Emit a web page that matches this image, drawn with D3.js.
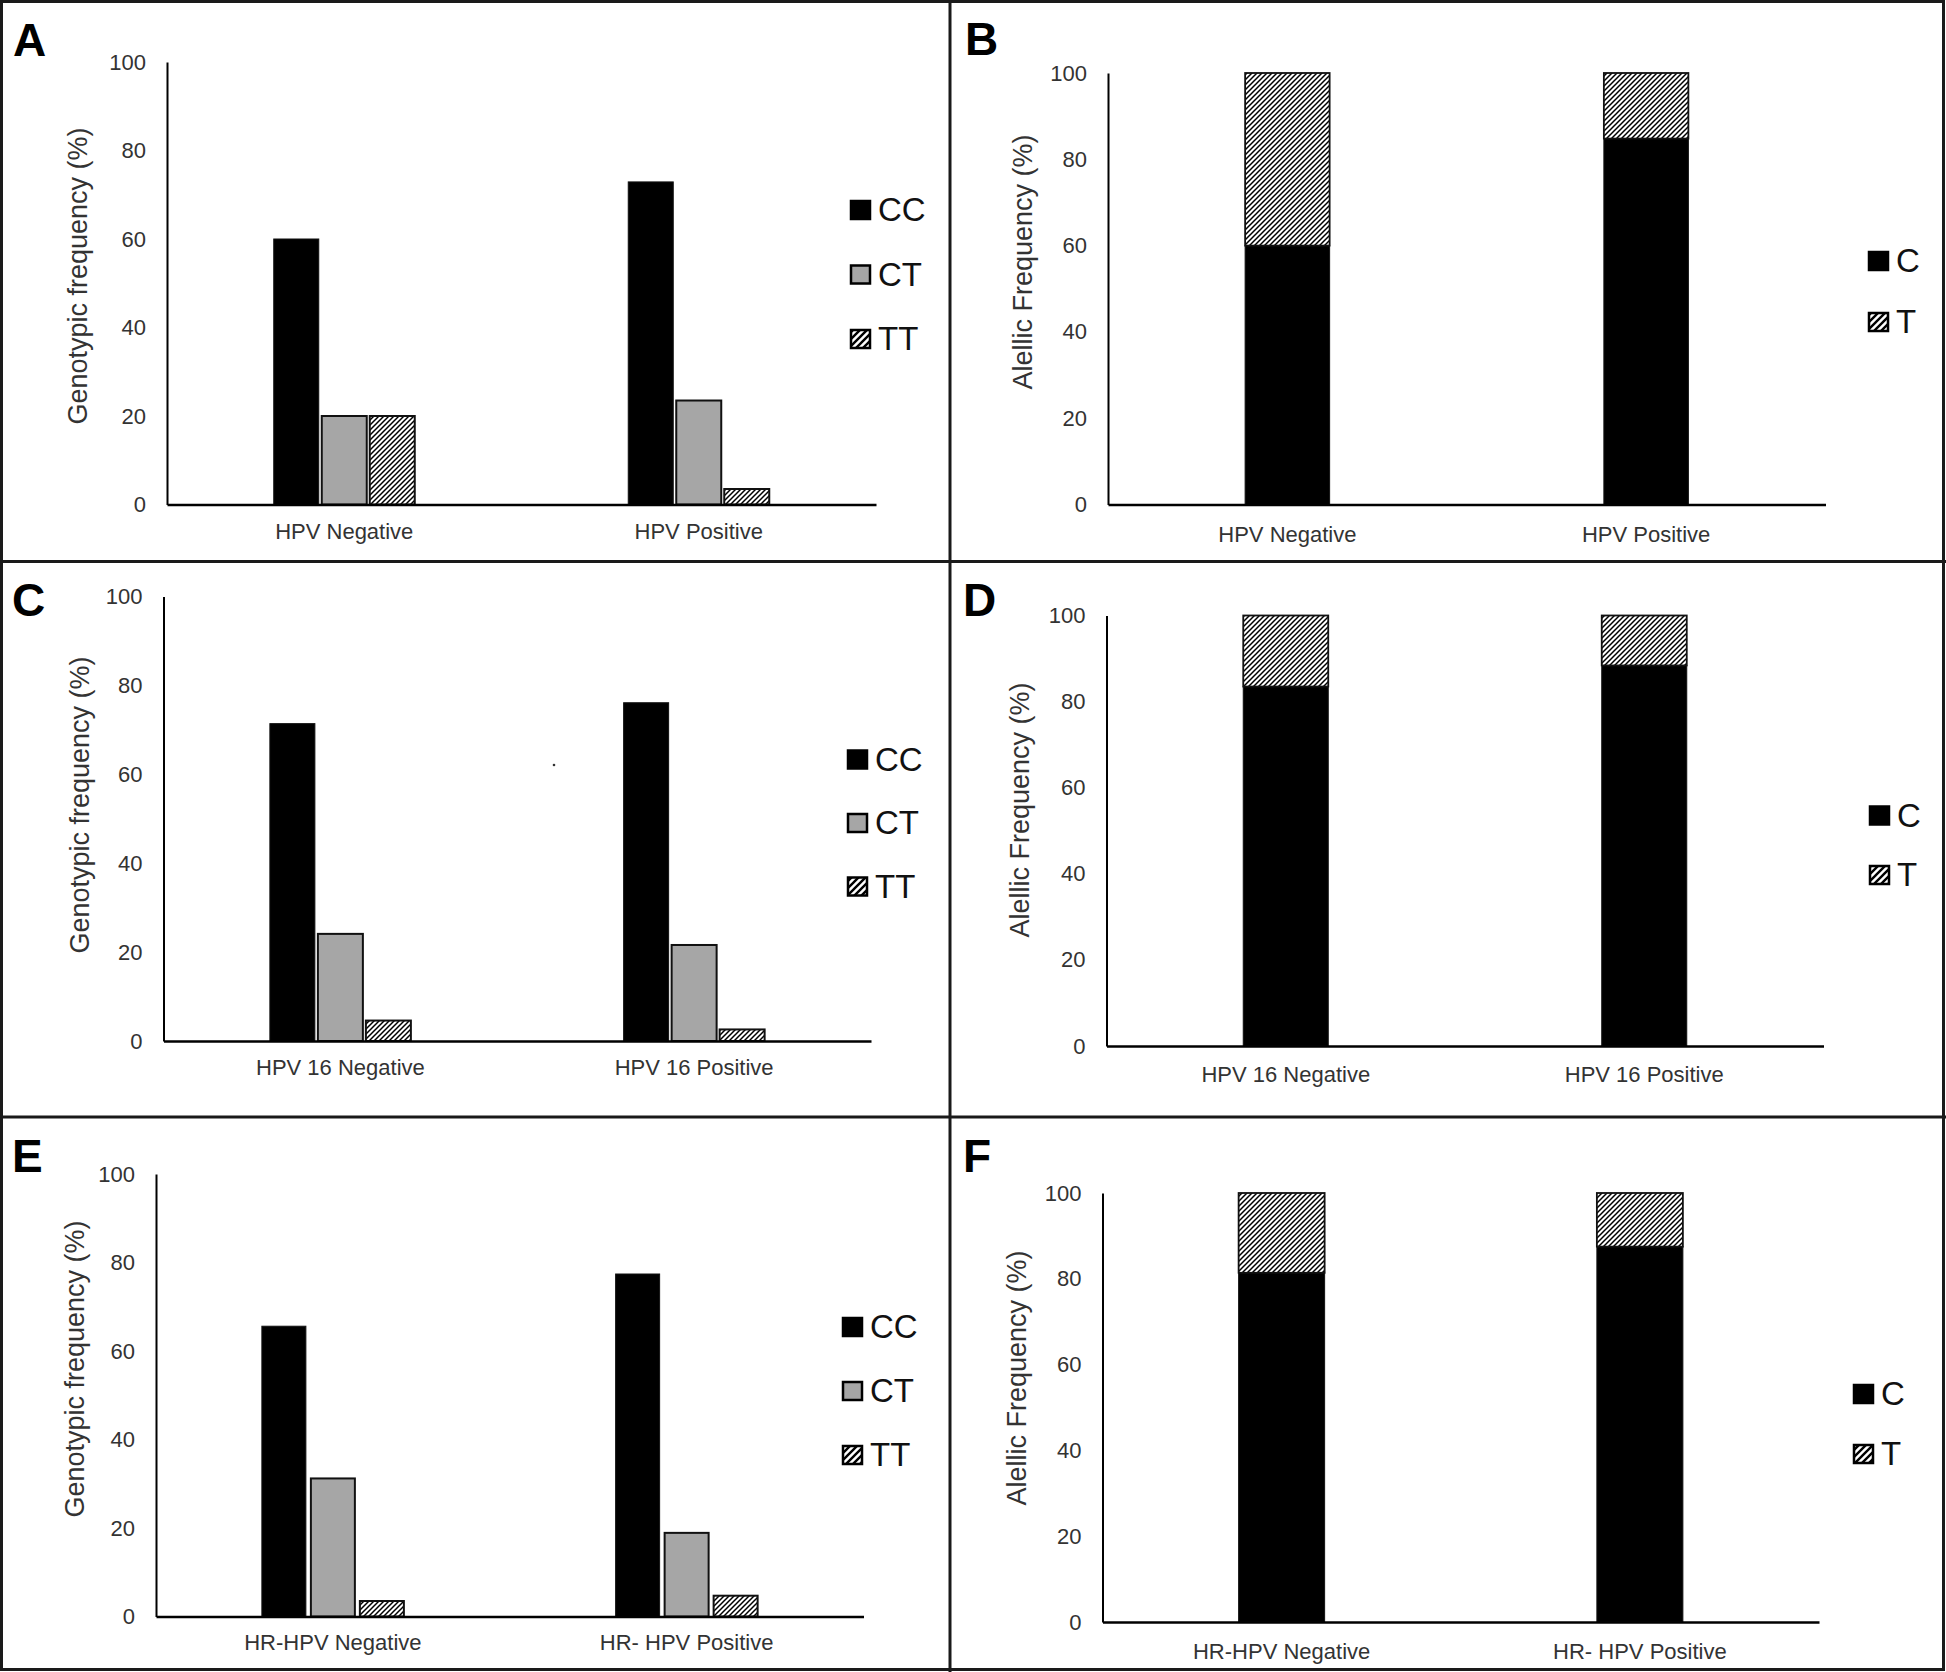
<!DOCTYPE html>
<html>
<head>
<meta charset="utf-8">
<script src="https://cdn.jsdelivr.net/npm/d3@7"></script>
<style>
  html, body { margin: 0; padding: 0; background: #fff; }
  svg { display: block; }
  text { font-family: Arial, "Liberation Sans", sans-serif; }
</style>
</head>
<body>
<svg id="chart" width="1946" height="1672"></svg>
<script>
// ---------------- DATA ----------------
const tickValues = [0, 20, 40, 60, 80, 100];
const genotypes = ["CC", "CT", "TT"];
const alleles = ["C", "T"];

const catsA = ["HPV Negative", "HPV Positive"];
const ccA = [60.0, 72.9];
const ctA = [20.0, 23.5];
const ttA = [20.0, 3.5];

const catsB = ["HPV Negative", "HPV Positive"];
const cB = [60.0, 84.8];
const tB = [40.0, 15.2];

const catsC = ["HPV 16 Negative", "HPV 16 Positive"];
const ccC = [71.4, 76.1];
const ctC = [24.1, 21.6];
const ttC = [4.6, 2.6];

const catsD = ["HPV 16 Negative", "HPV 16 Positive"];
const cD = [83.5, 88.4];
const tD = [16.5, 11.6];

const catsE = ["HR-HPV Negative", "HR- HPV Positive"];
const ccE = [65.6, 77.4];
const ctE = [31.2, 18.9];
const ttE = [3.5, 4.7];

const catsF = ["HR-HPV Negative", "HR- HPV Positive"];
const cF = [81.4, 87.5];
const tF = [18.6, 12.5];

const genoTitle = "Genotypic frequency (%)";
const alleleTitle = "Alellic Frequency (%)";

// ---------------- LAYOUT ----------------
const panels = [
  { letter: "A", kind: "geno", cats: catsA, series: [ccA, ctA, ttA],
    label: [13, 56], plot: { x0: 167, x1: 876, top: 62, bottom: 504.5 },
    barW: 45, gap: 3, legend: { x: 850, y: 200, step: 64.5 }, title: [78, 276], xPad: 19 },
  { letter: "B", kind: "allele", cats: catsB, series: [cB, tB],
    label: [965, 55], plot: { x0: 1108, x1: 1825.5, top: 73, bottom: 504.5 },
    barW: 84.5, legend: { x: 1868, y: 251, step: 61 }, title: [1023, 262], xPad: 22 },
  { letter: "C", kind: "geno", cats: catsC, series: [ccC, ctC, ttC],
    label: [12, 616], plot: { x0: 163.5, x1: 871, top: 596.5, bottom: 1041 },
    barW: 45, gap: 3, legend: { x: 847, y: 749.5, step: 63.5 }, title: [80, 805], xPad: 18 },
  { letter: "D", kind: "allele", cats: catsD, series: [cD, tD],
    label: [963, 616], plot: { x0: 1106.5, x1: 1823.5, top: 615.5, bottom: 1046 },
    barW: 85, legend: { x: 1869, y: 805.5, step: 59.5 }, title: [1020, 810], xPad: 20 },
  { letter: "E", kind: "geno", cats: catsE, series: [ccE, ctE, ttE],
    label: [12, 1172], plot: { x0: 156, x1: 863.5, top: 1174, bottom: 1616.5 },
    barW: 44, gap: 5, legend: { x: 842, y: 1317, step: 64 }, title: [75, 1369], xPad: 18 },
  { letter: "F", kind: "allele", cats: catsF, series: [cF, tF],
    label: [963, 1172], plot: { x0: 1102.5, x1: 1819, top: 1193, bottom: 1622 },
    barW: 86, legend: { x: 1853, y: 1384, step: 60 }, title: [1017, 1378], xPad: 21 }
];

const svg = d3.select("#chart");
const defs = svg.append("defs");

// hatch pattern for bars
const hatch = defs.append("pattern").attr("id", "hatch")
  .attr("patternUnits", "userSpaceOnUse").attr("width", 5).attr("height", 5);
hatch.append("rect").attr("width", 5).attr("height", 5).attr("fill", "#fff");
hatch.append("path").attr("d", "M-1,1 l2,-2 M0,5 l5,-5 M4,6 l2,-2")
  .attr("stroke", "#000").attr("stroke-width", 1.5);

// coarser hatch for legend keys
const hatchL = defs.append("pattern").attr("id", "hatchL")
  .attr("patternUnits", "userSpaceOnUse").attr("width", 7).attr("height", 7);
hatchL.append("rect").attr("width", 7).attr("height", 7).attr("fill", "#fff");
hatchL.append("path").attr("d", "M-1,1 l2,-2 M0,7 l7,-7 M6,8 l2,-2")
  .attr("stroke", "#000").attr("stroke-width", 2.4);

const fills = { CC: "#000", CT: "#a6a6a6", TT: "url(#hatch)", C: "#000", T: "url(#hatch)" };
const legendFills = { CC: "#000", CT: "#a6a6a6", TT: "url(#hatchL)", C: "#000", T: "url(#hatchL)" };

// white background
svg.append("rect").attr("width", 1946).attr("height", 1672).attr("fill", "#fff");

panels.forEach(p => {
  const g = svg.append("g");
  const y = d3.scaleLinear().domain([0, 100]).range([p.plot.bottom, p.plot.top]);
  const x = d3.scaleBand().domain(p.cats).range([p.plot.x0, p.plot.x1]).padding(0);

  // axes
  const yAxis = d3.axisLeft(y).tickValues(tickValues).tickSize(0).tickSizeOuter(0).tickPadding(21);
  const yg = g.append("g").attr("transform", `translate(${p.plot.x0},0)`).call(yAxis);
  yg.select(".domain").attr("stroke", "#000").attr("stroke-width", 2);
  yg.selectAll("text").attr("font-size", 22).attr("fill", "#333")
    .attr("font-family", "Arial, 'Liberation Sans', sans-serif");

  const series = p.kind === "geno" ? genotypes : alleles;

  if (p.kind === "geno") {
    const groupW = 3 * p.barW + 2 * p.gap;
    const step = p.barW + p.gap;
    const inner = d3.scaleBand().domain(series)
      .range([-groupW / 2, groupW / 2]).paddingInner(p.gap / step);
    series.forEach((s, si) => {
      g.append("g").selectAll("rect")
        .data(p.cats.map((c, ci) => ({ c, v: p.series[si][ci] })))
        .join("rect")
        .attr("x", d => x(d.c) + x.bandwidth() / 2 + inner(s))
        .attr("width", inner.bandwidth())
        .attr("y", d => y(d.v))
        .attr("height", d => y(0) - y(d.v))
        .attr("fill", fills[s])
        .attr("stroke", "#111")
        .attr("stroke-width", s === "CC" ? 1 : 2);
    });
  } else {
    const rows = p.cats.map((c, ci) => {
      const o = { cat: c };
      series.forEach((s, si) => { o[s] = p.series[si][ci]; });
      return o;
    });
    const stacked = d3.stack().keys(series)(rows);
    stacked.forEach(layer => {
      g.append("g").selectAll("rect")
        .data(layer)
        .join("rect")
        .attr("x", d => x(d.data.cat) + x.bandwidth() / 2 - p.barW / 2)
        .attr("width", p.barW)
        .attr("y", d => y(d[1]))
        .attr("height", d => y(d[0]) - y(d[1]))
        .attr("fill", fills[layer.key])
        .attr("stroke", "#111")
        .attr("stroke-width", layer.key === "C" ? 1 : 1.8);
    });
  }

  const xAxis = d3.axisBottom(x).tickSize(0).tickSizeOuter(0).tickPadding(p.xPad);
  const xg = g.append("g").attr("transform", `translate(0,${p.plot.bottom})`).call(xAxis);
  xg.select(".domain").attr("stroke", "#000").attr("stroke-width", 2.5);
  xg.selectAll("text").attr("font-size", 22).attr("fill", "#333")
    .attr("font-family", "Arial, 'Liberation Sans', sans-serif");

  // y title
  g.append("text")
    .attr("transform", `translate(${p.title[0]},${p.title[1]}) rotate(-90)`)
    .attr("text-anchor", "middle")
    .attr("dominant-baseline", "central")
    .attr("font-size", 27)
    .attr("fill", "#333")
    .text(p.kind === "geno" ? genoTitle : alleleTitle);

  // legend
  const lg = g.append("g");
  series.forEach((s, i) => {
    const ly = p.legend.y + i * p.legend.step;
    lg.append("rect")
      .attr("x", p.legend.x + 1).attr("y", ly + 1)
      .attr("width", 19).attr("height", 18)
      .attr("fill", legendFills[s])
      .attr("stroke", "#000").attr("stroke-width", 2.5);
    lg.append("text")
      .attr("x", p.legend.x + 28).attr("y", ly + 21)
      .attr("font-size", 33).attr("fill", "#111")
      .text(s);
  });

  // panel letter
  g.append("text")
    .attr("x", p.label[0]).attr("y", p.label[1])
    .attr("font-size", 46).attr("font-weight", "bold").attr("fill", "#000")
    .text(p.letter);
});

// small stray dot in panel C
svg.append("circle").attr("cx", 554).attr("cy", 765).attr("r", 1.3).attr("fill", "#333");

// panel frame
const frame = svg.append("g").attr("fill", "none").attr("stroke", "#1a1a1a").attr("stroke-width", 3);
frame.append("rect").attr("x", 1.5).attr("y", 1.5).attr("width", 1942).attr("height", 1668);
frame.append("line").attr("x1", 950).attr("x2", 950).attr("y1", 0).attr("y2", 1672);
frame.append("line").attr("x1", 0).attr("x2", 1946).attr("y1", 561.5).attr("y2", 561.5);
frame.append("line").attr("x1", 0).attr("x2", 1946).attr("y1", 1117).attr("y2", 1117);
</script>
</body>
</html>
